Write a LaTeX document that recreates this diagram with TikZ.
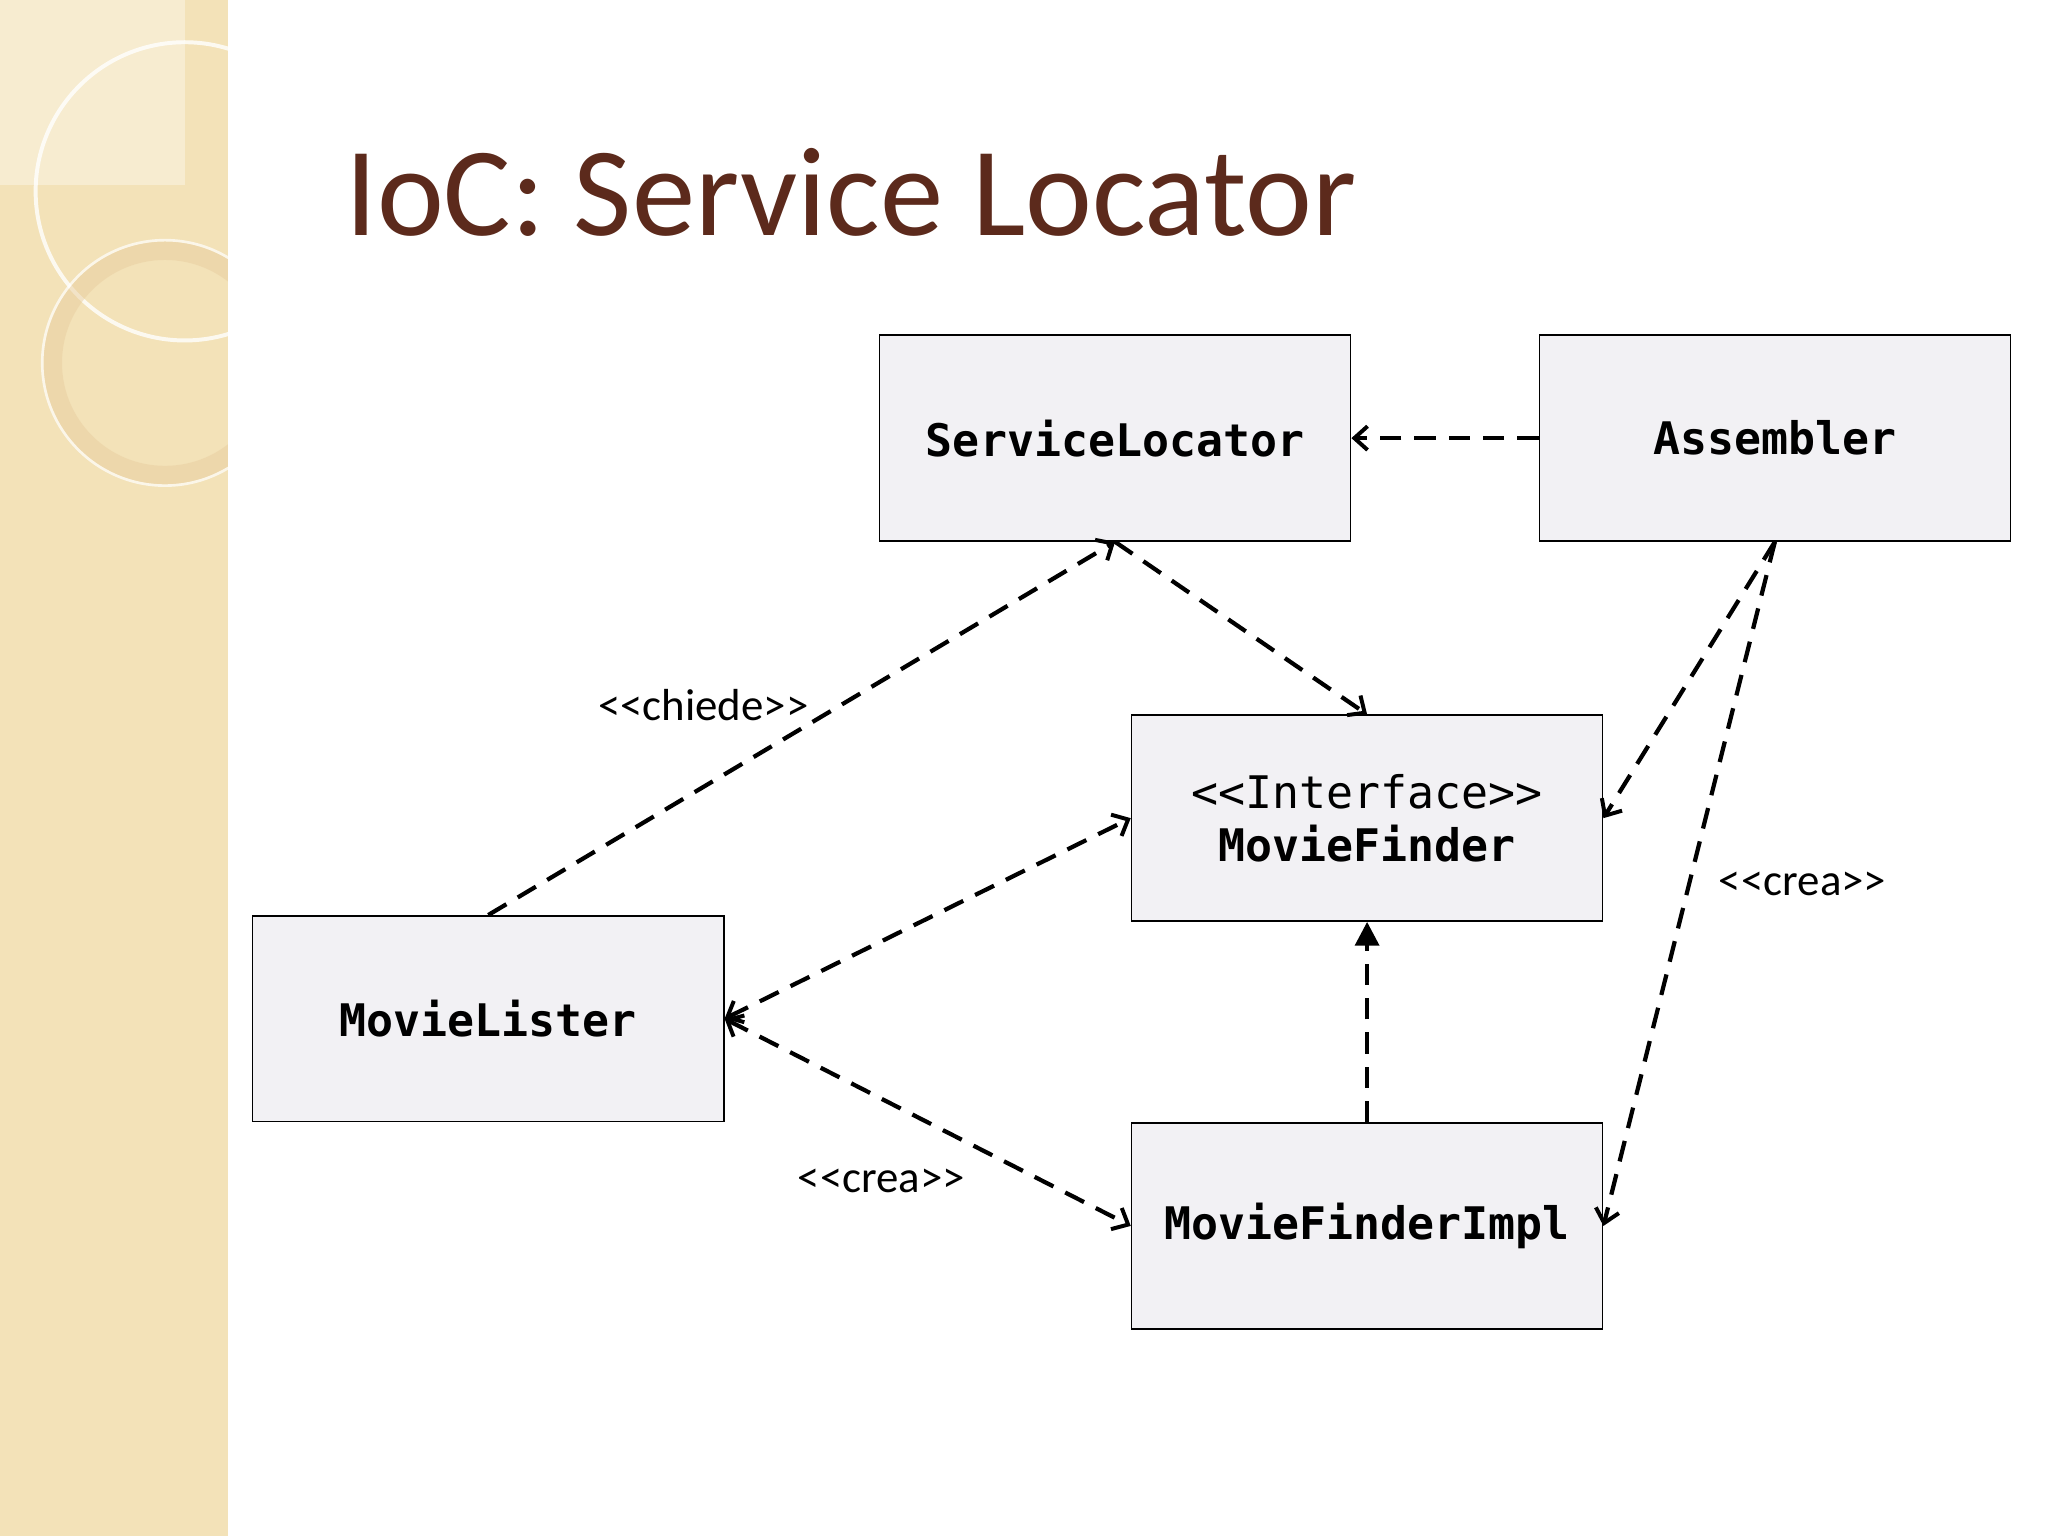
\documentclass[tikz,border=0pt]{standalone}
\usepackage{fontspec}
\setmainfont{Carlito}
\newfontfamily\boxfont{DejaVu Sans Mono}
\usetikzlibrary{arrows.meta}
\definecolor{beige}{HTML}{F3E2B8}
\definecolor{titlec}{HTML}{5C2A1C}
\definecolor{boxc}{HTML}{F2F1F4}
\begin{document}
\begin{tikzpicture}[x=1pt,y=-1pt,
  cls/.style={draw=black,line width=1.2pt,fill=boxc,minimum width=357pt,minimum height=156pt,inner sep=0pt,align=center,font=\boxfont\fontsize{34}{44}\selectfont\bfseries},
  dep/.style={dashed,dash pattern=on 16pt off 10pt,line width=3.2pt,-{Straight Barb[length=10pt,width=18pt,line width=3pt]}},
  dep2/.style={dep,{Straight Barb[length=10pt,width=18pt,line width=3pt]}-{Straight Barb[length=10pt,width=18pt,line width=3pt]}},
  lab/.style={font=\fontsize{34}{40}\selectfont}]
\useasboundingbox (0,0) rectangle (1552,1164);
\fill[beige] (0,0) rectangle (173,1164);
\fill[white,opacity=0.35] (0,0) rectangle (140,140);
\draw[white,line width=3pt,opacity=0.8] (140,145) circle (113);
\draw[beige!80!brown,line width=14pt,opacity=0.5] (125,275) circle (85);
\draw[white,line width=2pt,opacity=0.7] (125,275) circle (93);
\fill[white] (173,0) rectangle (1552,1164);
\node[anchor=west,text=titlec,font=\fontsize{96}{100}\selectfont] (title) at (258,146) {IoC: Service Locator};
\node[cls] (sl) at (845,332) {ServiceLocator};
\node[cls] (as) at (1345,332) {Assembler};
\node[cls,font=\boxfont\fontsize{34}{44}\selectfont] (mf) at (1036,620) {<{}<Interface>{}>\\[-4pt]\bfseries MovieFinder};
\node[cls] (ml) at (370,772) {MovieLister};
\node[cls] (mi) at (1036,929) {MovieFinderImpl};
\draw[dep] (as.west) -- (sl.east);
\draw[dep] (ml.north) -- (sl.south);
\draw[dep] (sl.south) -- (mf.north);
\draw[dep] (as.south) -- (mf.east);
\draw[dep] (as.south) -- (mi.east);
\draw[dep2] (ml.east) -- (mf.west);
\draw[dep2] (ml.east) -- (mi.west);
\draw[dashed,dash pattern=on 16pt off 10pt,line width=3.2pt,-{Triangle[length=18pt,width=18pt]}] (mi.north) -- (mf.south);
\node[lab,fill=white,inner sep=1pt] (l1) at (533,534) {<{}<chiede>{}>};
\node[lab] (l2) at (1366,670) {<{}<crea>{}>};
\node[lab] (l3) at (668,895) {<{}<crea>{}>};
\end{tikzpicture}
\end{document}
